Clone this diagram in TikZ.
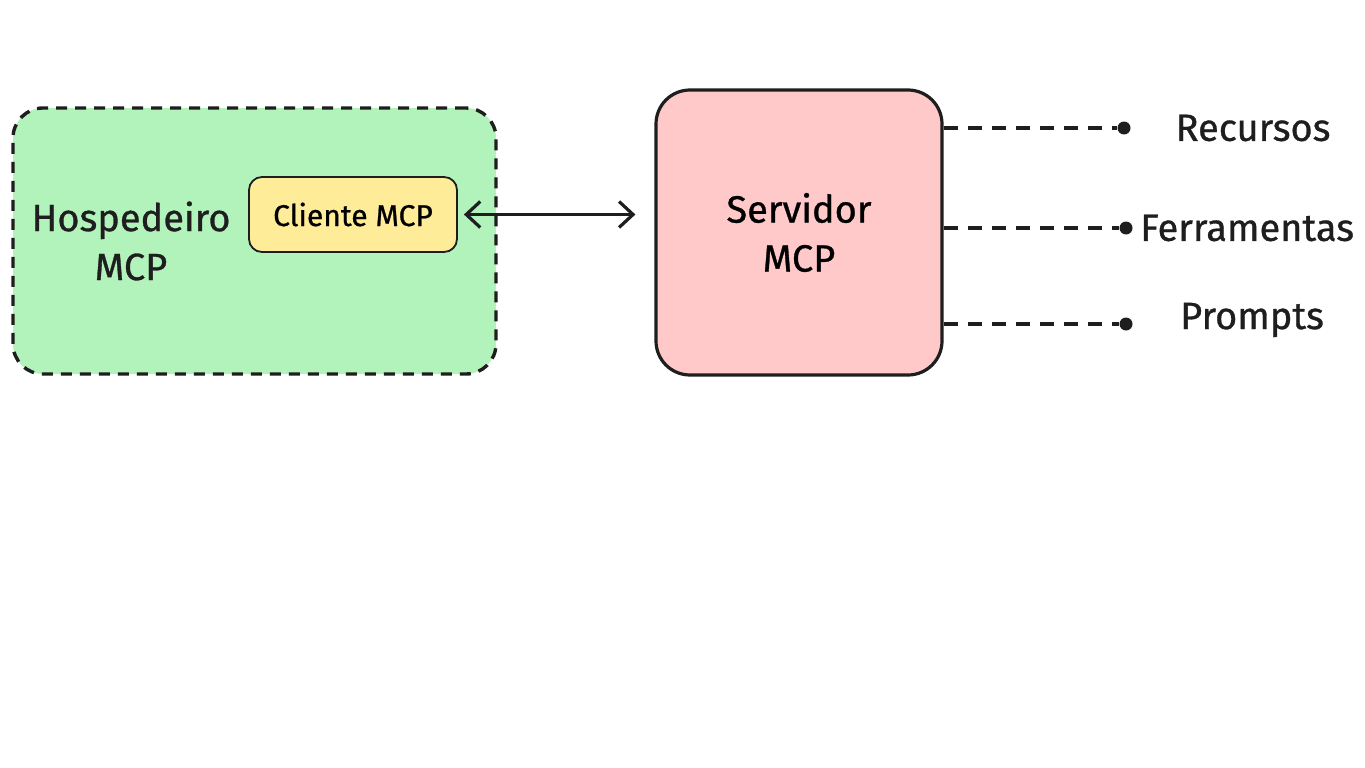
\documentclass[tikz,border=0pt]{standalone}
\usepackage{fontspec}
\setmainfont{Fira Sans}[FakeBold=0.8]
\usetikzlibrary{arrows.meta}
\definecolor{hostgreen}{HTML}{B2F2BB}
\definecolor{cliyellow}{HTML}{FFEC99}
\definecolor{srvpink}{HTML}{FFC9C9}
\definecolor{ink}{HTML}{1E1E1E}
\begin{document}
\begin{tikzpicture}[x=1pt,y=-1pt,
  hostbox/.style={draw=ink, fill=hostgreen, line width=3.4pt, dash pattern=on 11pt off 8pt,
    rounded corners=30pt, minimum width=483pt, minimum height=266pt, inner sep=0pt},
  clibox/.style={draw=ink, fill=cliyellow, line width=1.8pt, rounded corners=13pt,
    minimum width=208pt, minimum height=75pt, inner sep=0pt, font=\fontsize{30}{36}\selectfont},
  srvbox/.style={draw=ink, fill=srvpink, line width=3.2pt, rounded corners=34pt,
    minimum width=286pt, minimum height=285pt, inner sep=0pt, align=center,
    font=\fontsize{38}{49}\selectfont},
  lbl/.style={text=ink, align=center, font=\fontsize{38}{49}\selectfont, inner sep=0pt},
  endpt/.style={circle, fill=ink, minimum size=13pt, inner sep=0pt},
  dashline/.style={draw=ink, line width=3.4pt, dash pattern=on 14pt off 10pt},
  link/.style={draw=ink, line width=3.2pt, {Straight Barb[length=14pt,width=26pt,line width=3.2pt]}-{Straight Barb[length=14pt,width=26pt,line width=3.2pt]}}
]
\useasboundingbox (0,0) rectangle (1365,768);
\node[hostbox] (host) at (254.5,241) {};
\node[lbl] (hostlbl) at (131,241) {Hospedeiro\\MCP};
\node[clibox] (cli) at (353,214.5) {Cliente MCP};
\node[srvbox] (srv) at (799,232.5) {Servidor\\MCP};
\draw[link, shorten <=6pt, shorten >=19pt] (cli.east) -- (cli.east -| srv.west);
\node[endpt] (d1) at (1124,128) {};
\node[endpt] (d2) at (1126,228) {};
\node[endpt] (d3) at (1126,324) {};
\draw[dashline] (srv.east |- d1) -- (d1);
\draw[dashline] (srv.east |- d2) -- (d2);
\draw[dashline] (srv.east |- d3) -- (d3);
\node[lbl] (rec) at (1253,128) {Recursos};
\node[lbl, anchor=west] (fer) at (1140,228) {Ferramentas};
\node[lbl] (pro) at (1252,320) {Prompts};
\end{tikzpicture}
\end{document}
